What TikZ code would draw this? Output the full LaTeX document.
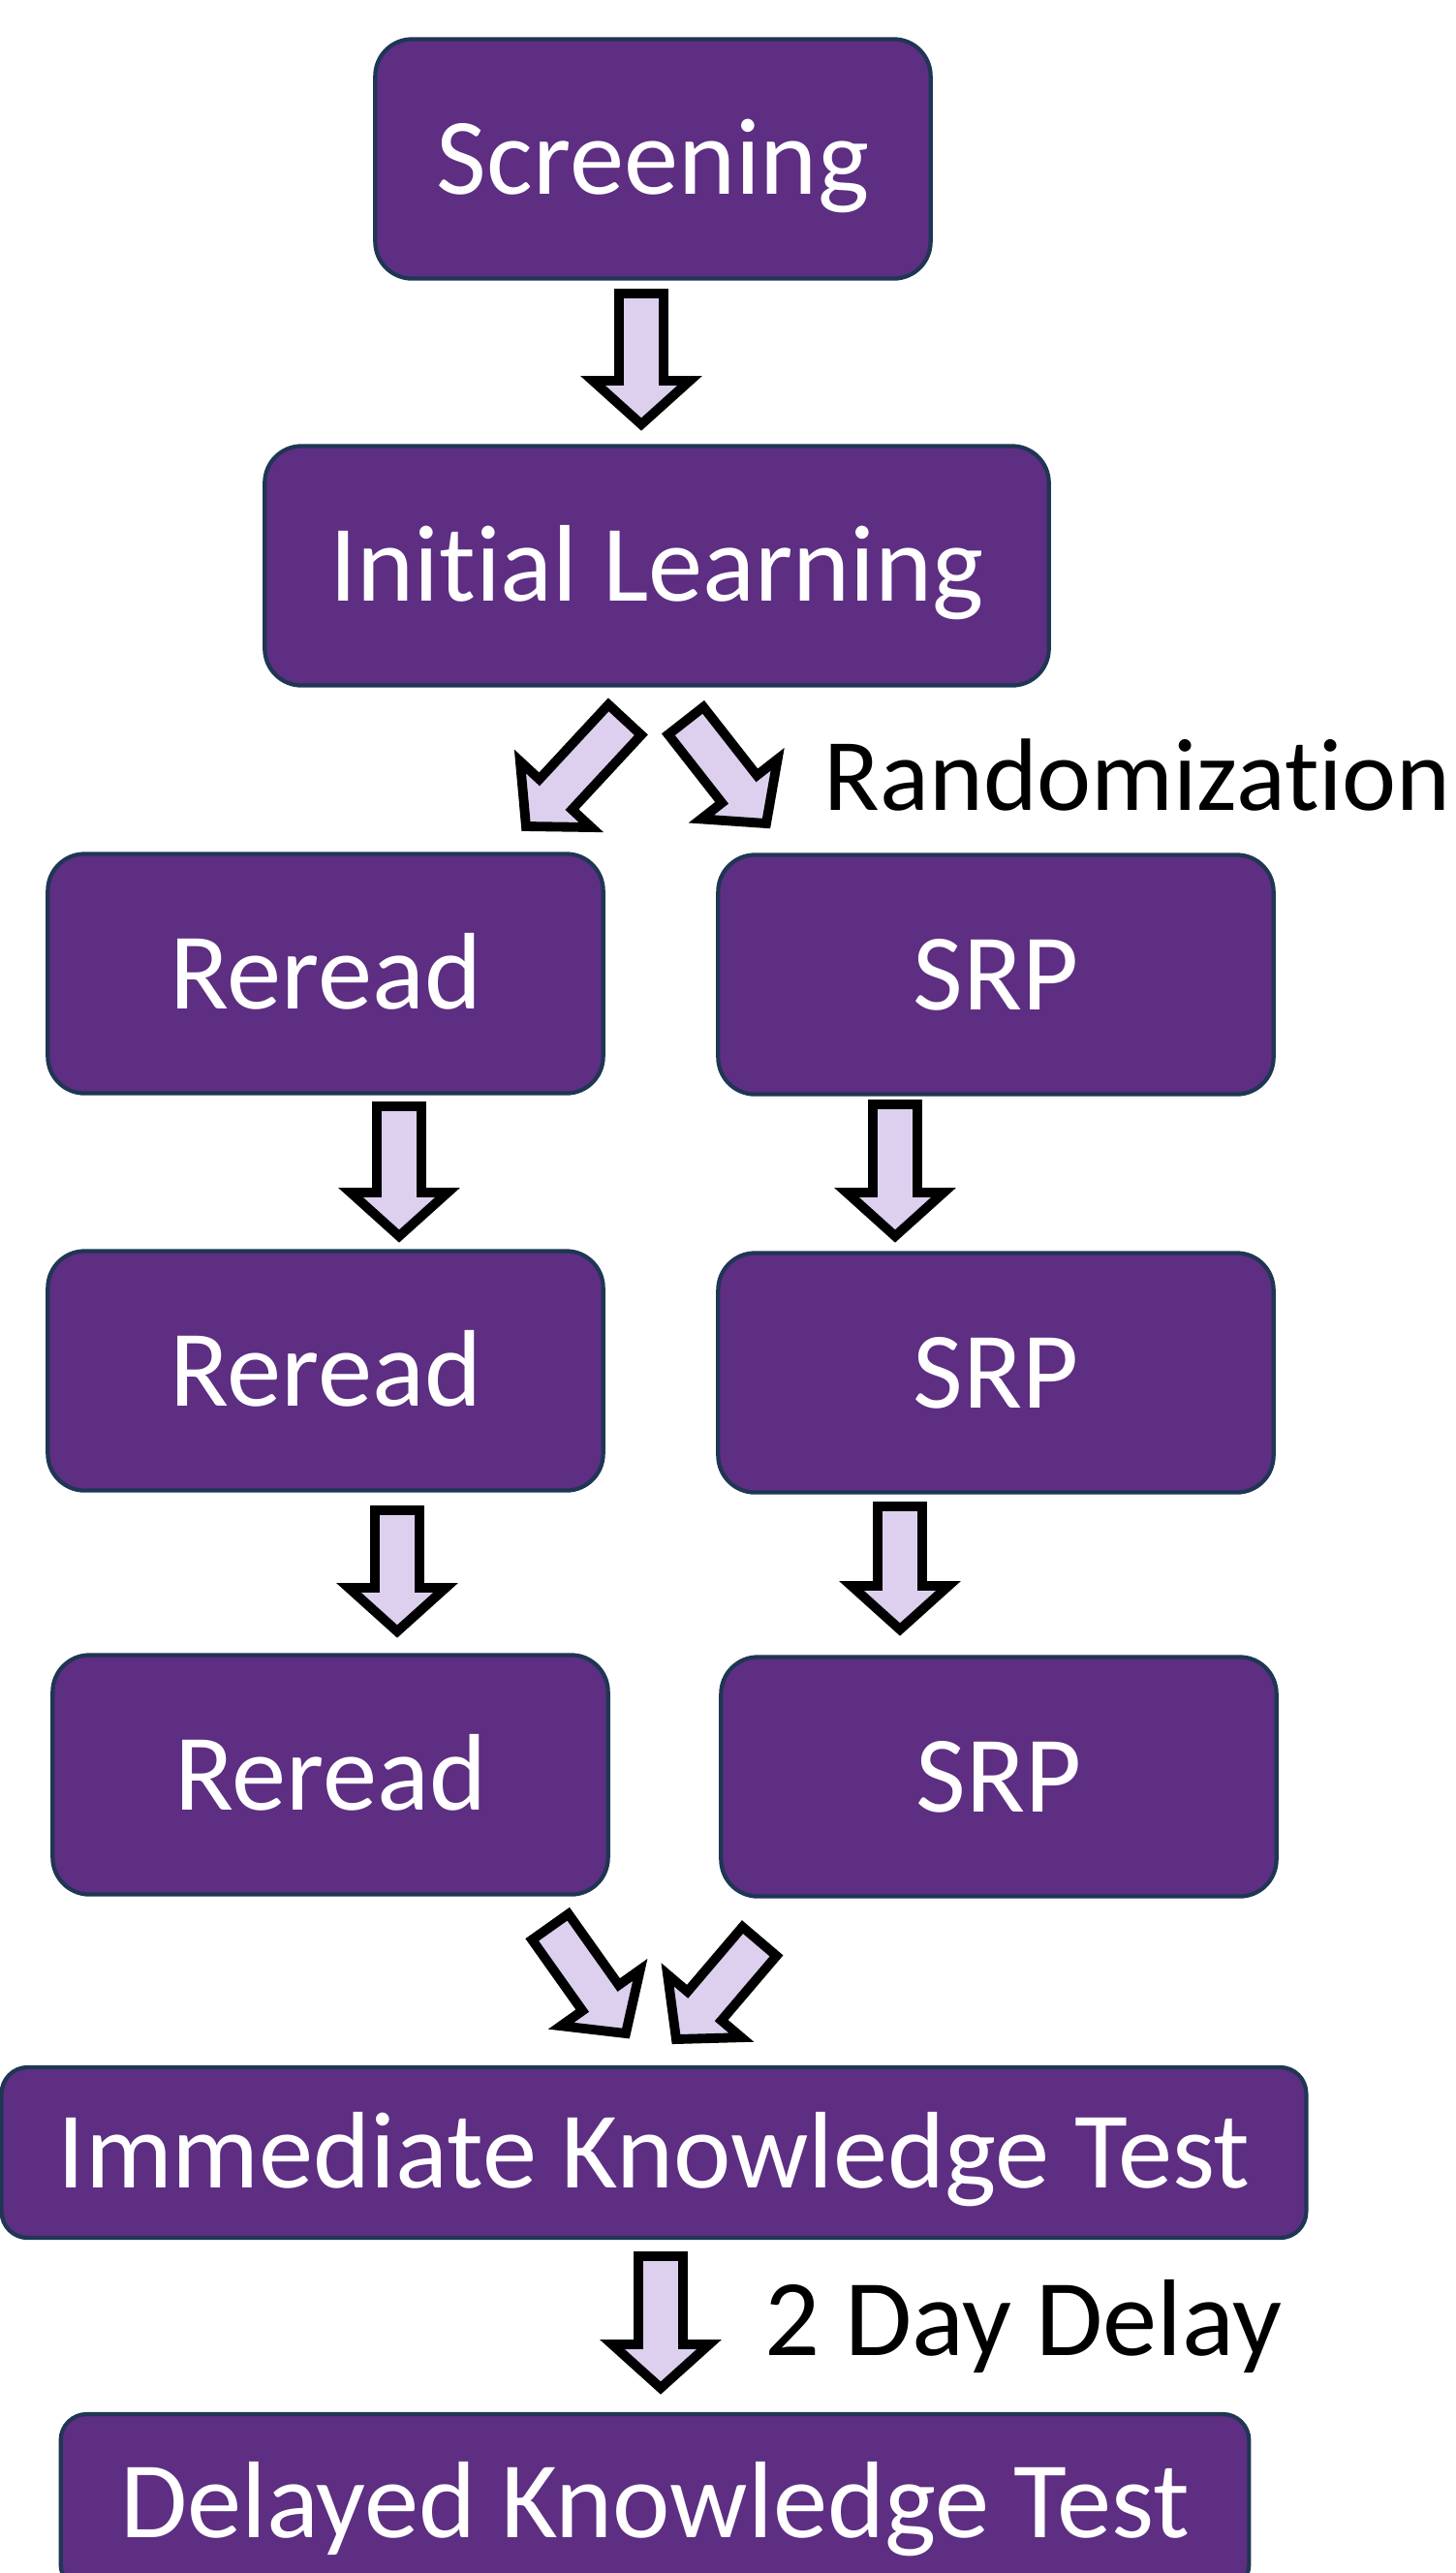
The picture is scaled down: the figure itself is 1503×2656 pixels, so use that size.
\documentclass[tikz,border=0pt]{standalone}
\usepackage{fontspec}
\setmainfont{Carlito}[Ligatures=NoCommon]
\usetikzlibrary{calc}

\definecolor{stagefill}{RGB}{93,46,130}
\definecolor{stageline}{RGB}{31,54,84}
\definecolor{arrowfill}{RGB}{220,208,238}

\tikzset{
  stage/.style={draw=stageline, fill=stagefill, line width=1.2pt, rounded corners=0.38cm,
    text=white, inner sep=0pt, minimum width=5.73cm, minimum height=2.47cm,
    text height=0.72cm, text depth=0pt, font=\fontsize{32}{38}\selectfont},
  flat/.style={rounded corners=0.27cm, minimum height=1.76cm},
  blockarr/.style={draw=black, fill=arrowfill, line width=2.8pt},
  note/.style={anchor=base west, inner sep=0pt, font=\fontsize{32}{38}\selectfont}
}

% fat arrow from tail (#1) to tip (#2)
\def\blockarrow(#1)(#2){%
  \path (#2) coordinate (tip) ($(#2)!0.45cm!(#1)$) coordinate (hb);
  \draw[blockarr] ($(#1)!0.23cm!90:(#2)$) -- ($(hb)!0.23cm!90:(#2)$) -- ($(hb)!0.50cm!90:(#2)$)
    -- (tip) -- ($(hb)!0.50cm!-90:(#2)$) -- ($(hb)!0.23cm!-90:(#2)$) -- ($(#1)!0.23cm!-90:(#2)$) -- cycle;}

\begin{document}
\begin{tikzpicture}[x=0.01cm, y=-0.01cm]
		%%%%% START %%%%%
		\useasboundingbox (0,0) rectangle (1503,2656);
		
		\node[stage] (screen) at (674,164) {Screening};
		\node[stage, minimum width=8.09cm] (learn) at (678,584) {Initial Learning};
		
		\node[stage] (reread1) at (336,1005) {Reread};
		\node[stage] (srp1) at (1028,1006) {SRP};
		\node[stage] (reread2) at (336,1415) {Reread};
		\node[stage] (srp2) at (1028,1417) {SRP};
		\node[stage] (reread3) at (341,1832) {Reread};
		\node[stage] (srp3) at (1031,1834) {SRP};
		
		\node[stage, flat, minimum width=13.46cm] (immediate) at (675,2222) {Immediate Knowledge Test};
		\node[stage, flat, minimum width=12.26cm, minimum height=1.82cm] (delayed) at (676,2583) {Delayed Knowledge Test};
		
		\node[note, font=\fontsize{30.2}{36}\selectfont] (randlabel) at (850,836) {Randomization};
		\node[note] (delaylabel) at (789,2431) {2 Day Delay};
		
		% arrow ends
		\coordinate (scrout) at (662,303);  \coordinate (learnin) at (662,438);
		\coordinate (splitl) at (645,743);  \coordinate (rrin) at (543,853);
		\coordinate (splitr) at (708,744);  \coordinate (srpin) at (791,850);
		\coordinate (rr1out) at (412,1142); \coordinate (rr2in) at (412,1276);
		\coordinate (srp1out) at (924,1140); \coordinate (srp2in) at (924,1276);
		\coordinate (rr2out) at (410,1559); \coordinate (rr3in) at (410,1684);
		\coordinate (srp2out) at (929,1555); \coordinate (srp3in) at (929,1682);
		\coordinate (rr3out) at (568,1989); \coordinate (imml) at (646,2099);
		\coordinate (srp3out) at (784,2004); \coordinate (immr) at (698,2105);
		\coordinate (immout) at (682,2329); \coordinate (delin) at (682,2465);
		
		\blockarrow(scrout)(learnin)
		\blockarrow(splitl)(rrin)
		\blockarrow(splitr)(srpin)
		\blockarrow(rr1out)(rr2in)
		\blockarrow(srp1out)(srp2in)
		\blockarrow(rr2out)(rr3in)
		\blockarrow(srp2out)(srp3in)
		\blockarrow(rr3out)(imml)
		\blockarrow(srp3out)(immr)
		\blockarrow(immout)(delin)
		
		%%%%% END %%%%%
\end{tikzpicture}
\end{document}
